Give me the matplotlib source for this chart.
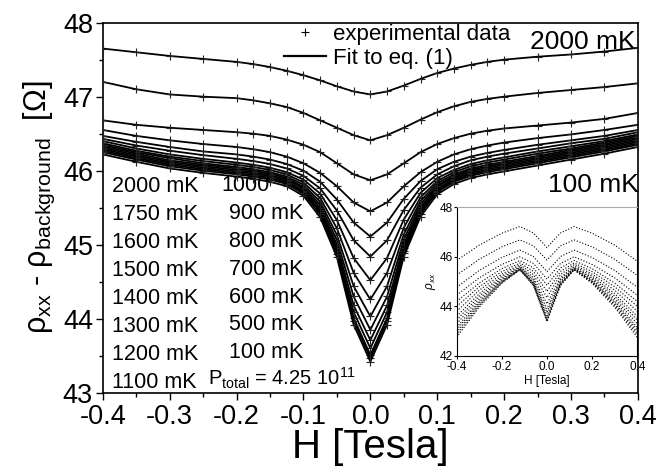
import matplotlib
matplotlib.use('Agg')
import matplotlib.pyplot as plt
from matplotlib.lines import Line2D
from matplotlib.ticker import MultipleLocator

plt.rcParams['font.family'] = ['Liberation Sans', 'DejaVu Sans']
plt.rcParams['mathtext.fontset'] = 'custom'
plt.rcParams['mathtext.rm'] = 'Liberation Sans'
plt.rcParams['mathtext.it'] = 'Liberation Sans:italic'

# magnetic field grid of the main panel [Tesla]
h_main = [-0.4, -0.35, -0.3, -0.25, -0.2, -0.175, -0.15, -0.125, -0.1, -0.075, -0.05, -0.025, 0.0,
          0.025, 0.05, 0.075, 0.1, 0.125, 0.15, 0.175, 0.2, 0.25, 0.3, 0.35, 0.4]

# rho_xx - rho_background [Ohm]
rho_2000 = [47.65, 47.60, 47.55, 47.51, 47.47, 47.44, 47.40, 47.35, 47.29, 47.22, 47.14, 47.07, 47.03,
            47.07, 47.15, 47.24, 47.32, 47.38, 47.43, 47.47, 47.50, 47.54, 47.57, 47.61, 47.66]
rho_1750 = [47.20, 47.10, 47.03, 47.00, 46.98, 46.95, 46.91, 46.86, 46.78, 46.68, 46.58, 46.48, 46.41,
            46.48, 46.58, 46.69, 46.79, 46.87, 46.93, 46.97, 47.00, 47.05, 47.09, 47.13, 47.18]
rho_1600 = [46.68, 46.62, 46.58, 46.55, 46.52, 46.50, 46.47, 46.42, 46.35, 46.25, 46.10, 45.95, 45.87,
            45.95, 46.10, 46.25, 46.36, 46.44, 46.50, 46.54, 46.57, 46.61, 46.65, 46.70, 46.78]
rho_1500 = [46.55, 46.47, 46.41, 46.36, 46.32, 46.29, 46.25, 46.19, 46.10, 45.97, 45.79, 45.57, 45.45,
            45.57, 45.79, 45.98, 46.12, 46.22, 46.29, 46.34, 46.38, 46.44, 46.49, 46.55, 46.62]
rho_1400 = [46.47, 46.39, 46.32, 46.26, 46.22, 46.19, 46.15, 46.09, 46.00, 45.85, 45.61, 45.30, 45.11,
            45.30, 45.62, 45.86, 46.02, 46.12, 46.19, 46.24, 46.28, 46.35, 46.41, 46.47, 46.55]
rho_1300 = [46.43, 46.34, 46.27, 46.21, 46.16, 46.13, 46.09, 46.03, 45.93, 45.76, 45.46, 45.06, 44.84,
            45.06, 45.47, 45.77, 45.95, 46.06, 46.14, 46.19, 46.23, 46.30, 46.37, 46.43, 46.52]
rho_1200 = [46.40, 46.30, 46.22, 46.16, 46.11, 46.08, 46.04, 45.98, 45.88, 45.69, 45.33, 44.82, 44.52,
            44.82, 45.34, 45.70, 45.90, 46.01, 46.09, 46.14, 46.18, 46.26, 46.33, 46.40, 46.49]
rho_1100 = [46.37, 46.27, 46.19, 46.13, 46.08, 46.05, 46.01, 45.95, 45.84, 45.63, 45.22, 44.62, 44.26,
            44.62, 45.23, 45.64, 45.86, 45.98, 46.06, 46.11, 46.15, 46.23, 46.30, 46.38, 46.47]
rho_1000 = [46.35, 46.25, 46.17, 46.10, 46.05, 46.02, 45.98, 45.92, 45.81, 45.58, 45.13, 44.44, 44.03,
            44.44, 45.14, 45.59, 45.83, 45.95, 46.03, 46.08, 46.12, 46.20, 46.28, 46.36, 46.45]
rho_900 = [46.33, 46.23, 46.14, 46.08, 46.03, 46.00, 45.96, 45.90, 45.78, 45.54, 45.06, 44.30, 43.85,
           44.30, 45.07, 45.55, 45.80, 45.93, 46.01, 46.06, 46.10, 46.18, 46.26, 46.34, 46.43]
rho_800 = [46.31, 46.21, 46.12, 46.06, 46.01, 45.98, 45.94, 45.88, 45.76, 45.50, 45.00, 44.18, 43.71,
           44.18, 45.01, 45.51, 45.78, 45.91, 45.99, 46.04, 46.08, 46.16, 46.24, 46.32, 46.41]
rho_700 = [46.29, 46.19, 46.10, 46.04, 45.99, 45.96, 45.92, 45.86, 45.73, 45.47, 44.95, 44.09, 43.60,
           44.09, 44.96, 45.48, 45.75, 45.89, 45.97, 46.02, 46.06, 46.14, 46.22, 46.30, 46.39]
rho_600 = [46.27, 46.17, 46.08, 46.02, 45.97, 45.94, 45.90, 45.84, 45.71, 45.44, 44.91, 44.01, 43.51,
           44.01, 44.92, 45.45, 45.73, 45.87, 45.95, 46.00, 46.04, 46.12, 46.20, 46.28, 46.37]
rho_500 = [46.25, 46.15, 46.06, 46.00, 45.95, 45.92, 45.88, 45.82, 45.69, 45.41, 44.88, 43.97, 43.47,
           43.97, 44.89, 45.42, 45.71, 45.85, 45.93, 45.98, 46.02, 46.10, 46.18, 46.26, 46.35]
rho_100 = [46.22, 46.12, 46.03, 45.97, 45.92, 45.89, 45.85, 45.79, 45.66, 45.37, 44.83, 43.92, 43.42,
           43.92, 44.84, 45.38, 45.68, 45.82, 45.90, 45.95, 45.99, 46.07, 46.15, 46.23, 46.32]

main_curves = [rho_2000, rho_1750, rho_1600, rho_1500, rho_1400, rho_1300, rho_1200, rho_1100,
               rho_1000, rho_900, rho_800, rho_700, rho_600, rho_500, rho_100]

# inset: raw rho_xx [Ohm]
h_inset = [-0.4, -0.3, -0.2, -0.12, -0.06, -0.03, 0.0, 0.03, 0.06, 0.12, 0.2, 0.3, 0.4]
inset_2000 = [45.85, 46.47, 46.95, 47.22, 46.96, 46.67, 46.37, 46.67, 46.96, 47.22, 46.95, 46.47, 45.82]
inset_1750 = [45.26, 45.90, 46.40, 46.68, 46.44, 46.15, 45.87, 46.15, 46.44, 46.68, 46.40, 45.90, 45.25]
inset_1600 = [44.77, 45.45, 45.97, 46.27, 46.01, 45.70, 45.40, 45.70, 46.01, 46.27, 45.97, 45.45, 44.77]
inset_1500 = [44.45, 45.15, 45.69, 46.00, 45.73, 45.42, 45.10, 45.42, 45.73, 46.00, 45.69, 45.15, 44.45]
inset_1400 = [44.20, 44.94, 45.52, 45.85, 45.55, 45.20, 44.85, 45.20, 45.55, 45.85, 45.52, 44.94, 44.20]
inset_1300 = [44.00, 44.79, 45.40, 45.75, 45.41, 45.00, 44.60, 45.00, 45.41, 45.75, 45.40, 44.79, 44.00]
inset_1200 = [43.80, 44.65, 45.30, 45.68, 45.28, 44.82, 44.35, 44.82, 45.28, 45.68, 45.30, 44.65, 43.80]
inset_1100 = [43.60, 44.51, 45.22, 45.62, 45.16, 44.63, 44.10, 44.63, 45.16, 45.62, 45.22, 44.51, 43.60]
inset_1000 = [43.45, 44.41, 45.15, 45.58, 45.08, 44.49, 43.90, 44.49, 45.08, 45.58, 45.15, 44.41, 43.45]
inset_900 = [43.30, 44.31, 45.10, 45.55, 45.01, 44.38, 43.75, 44.38, 45.01, 45.55, 45.10, 44.31, 43.30]
inset_800 = [43.15, 44.22, 45.05, 45.52, 44.95, 44.29, 43.62, 44.29, 44.95, 45.52, 45.05, 44.22, 43.15]
inset_700 = [43.05, 44.15, 45.01, 45.50, 44.91, 44.21, 43.52, 44.21, 44.91, 45.50, 45.01, 44.15, 43.05]
inset_600 = [42.95, 44.09, 44.98, 45.49, 44.88, 44.17, 43.46, 44.17, 44.88, 45.49, 44.98, 44.09, 42.95]
inset_500 = [42.85, 44.03, 44.96, 45.48, 44.86, 44.14, 43.42, 44.14, 44.86, 45.48, 44.96, 44.03, 42.85]
inset_100 = [42.75, 43.97, 44.93, 45.47, 44.84, 44.11, 43.38, 44.11, 44.84, 45.47, 44.93, 43.97, 42.75]

inset_curves = [inset_2000, inset_1750, inset_1600, inset_1500, inset_1400, inset_1300, inset_1200,
                inset_1100, inset_1000, inset_900, inset_800, inset_700, inset_600, inset_500, inset_100]

labels_col1 = ['2000 mK', '1750 mK', '1600 mK', '1500 mK', '1400 mK', '1300 mK', '1200 mK', '1100 mK']
labels_col2 = ['1000', '900 mK', '800 mK', '700 mK', '600 mK', '500 mK', '100 mK']

fig = plt.figure(figsize=(6.59, 4.72), dpi=100)
ax = fig.add_axes([0.156, 0.168, 0.812, 0.784])

for rho in main_curves:
    ax.plot(h_main, rho, color='black', lw=1.3, zorder=3)
    ax.plot(h_main, rho, ls='none', marker='+', ms=6, mew=0.8, color='#222222', zorder=3)

ax.set_xlim(-0.4, 0.4)
ax.set_ylim(43, 48)
ax.xaxis.set_major_locator(MultipleLocator(0.1))
ax.xaxis.set_minor_locator(MultipleLocator(0.05))
ax.yaxis.set_major_locator(MultipleLocator(1))
ax.yaxis.set_minor_locator(MultipleLocator(0.5))
ax.tick_params(which='major', direction='out', length=5, width=1, labelsize=19.5, pad=2)
ax.tick_params(axis='x', which='major', pad=3)
ax.tick_params(which='minor', direction='out', length=3, width=1)
ax.set_xticklabels([f'{v:.1f}' for v in ax.get_xticks()])
for s in ax.spines.values():
    s.set_linewidth(1.2)

ax.set_xlabel('H [Tesla]', fontsize=29, labelpad=-1)
ax.set_ylabel(r'ρ$_{\mathrm{xx}}$ - ρ$_{\mathrm{background}}$  [Ω]', fontsize=22, labelpad=4)

# temperature labels (drawn under the data)
for i, lab in enumerate(labels_col1):
    ax.text(-0.386, 45.78 - 0.377 * i, lab, fontsize=15.5, va='center', ha='left', zorder=1)
for i, lab in enumerate(labels_col2):
    xpos = -0.222 if i == 0 else -0.212
    ax.text(xpos, 45.80 - 0.377 * i, lab, fontsize=15.5, va='center', ha='left', zorder=1)
ax.text(-0.242, 43.19, r'P$_{\mathrm{total}}$ = 4.25 10$^{11}$', fontsize=14.5, va='center', ha='left')
ax.text(0.238, 47.74, '2000 mK', fontsize=19, va='center', ha='left')
ax.text(0.265, 45.80, '100 mK', fontsize=19, va='center', ha='left')

handles = [Line2D([], [], ls='none', marker='+', ms=6, mew=0.8, color='black'),
           Line2D([], [], color='black', lw=1.6)]
ax.legend(handles, ['experimental data', 'Fit to eq. (1)'], loc='upper left',
          bbox_to_anchor=(0.305, 1.045), frameon=False, fontsize=16,
          handlelength=1.9, handletextpad=0.3, labelspacing=0.15, borderpad=0.3)

# inset with raw data
axi = fig.add_axes([0.693, 0.246, 0.274, 0.315])
for rho in inset_curves:
    axi.plot(h_inset, rho, color='black', lw=0.8, ls=':')
axi.set_xlim(-0.4, 0.4)
axi.set_ylim(42, 48)
axi.set_xticks([-0.4, -0.2, 0.0, 0.2, 0.4])
axi.set_xticklabels(['-0.4', '-0.2', '0.0', '0.2', '0.4'])
axi.set_yticks([42, 44, 46, 48])
axi.tick_params(direction='out', length=2, width=0.8, labelsize=8.5, pad=1)
axi.tick_params(axis='x', pad=2)
axi.spines['top'].set_color('#aaaaaa')
axi.set_xlabel('H [Tesla]', fontsize=8.5, labelpad=1)
axi.set_ylabel(r'$\rho_{xx}$', fontsize=8.5, labelpad=1)

fig.savefig('out.png', dpi=100)
